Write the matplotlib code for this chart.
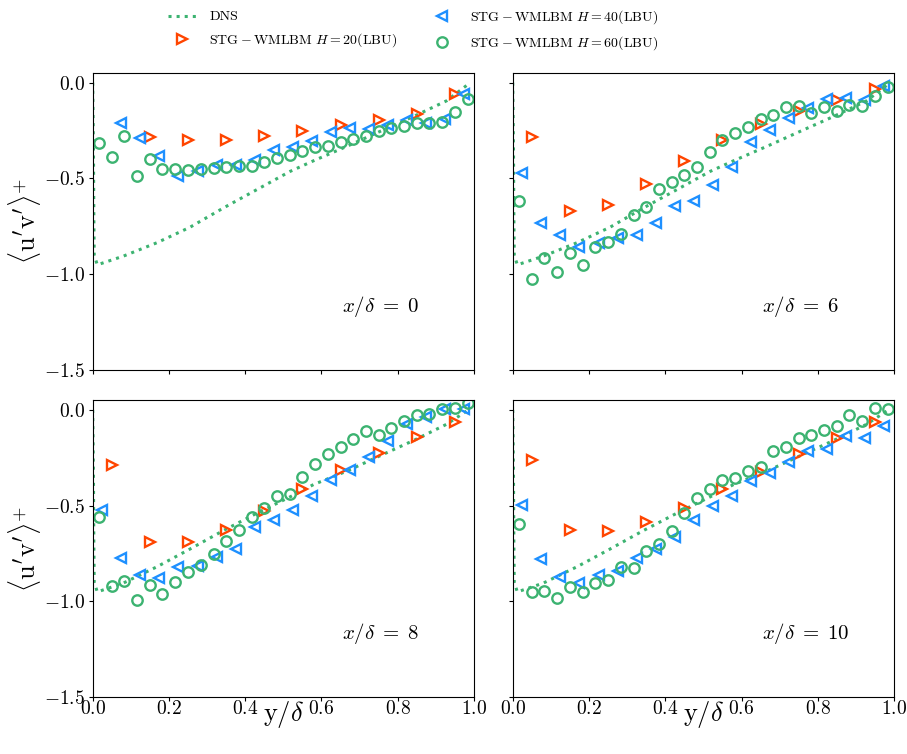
import numpy as np
import matplotlib
matplotlib.use('Agg')
import matplotlib.pyplot as plt

plt.rcParams['font.family'] = 'serif'
plt.rcParams['font.serif'] = ['cmr10']
plt.rcParams['mathtext.fontset'] = 'cm'
plt.rcParams['axes.formatter.use_mathtext'] = True

##################################################################
# Data

# DNS profiles
y_dns = [0.0, 0.002, 0.003, 0.004, 0.012, 0.08, 0.168, 0.255, 0.343, 0.43,
         0.517, 0.579, 0.666, 0.753, 0.841, 0.928, 0.985]
uv_dns_top = [0.0, -0.35, -0.7, -0.9, -0.951, -0.906, -0.836, -0.755, -0.654, -0.559,
              -0.464, -0.408, -0.333, -0.255, -0.177, -0.095, -0.008]
uv_dns_bot = [0.0, -0.35, -0.7, -0.9, -0.951, -0.905, -0.82, -0.727, -0.63, -0.54,
              -0.455, -0.39, -0.32, -0.24, -0.16, -0.075, -0.0]

# STG-WMLBM sample positions
y_h20 = [0.05, 0.15, 0.25, 0.35, 0.45, 0.55, 0.65, 0.75, 0.85, 0.95]
y_h40 = [0.025, 0.075, 0.125, 0.175, 0.225, 0.275, 0.325, 0.375, 0.425, 0.475,
         0.525, 0.575, 0.625, 0.675, 0.725, 0.775, 0.825, 0.875, 0.925, 0.975]
y_h60 = [0.017, 0.05, 0.083, 0.117, 0.15, 0.183, 0.217, 0.25, 0.283, 0.317,
         0.35, 0.383, 0.417, 0.45, 0.483, 0.517, 0.55, 0.583, 0.617, 0.65,
         0.683, 0.717, 0.75, 0.783, 0.817, 0.85, 0.883, 0.917, 0.95, 0.983]

stations = [0, 6, 8, 10]

uv_h20 = {
    0: [np.nan, -0.282, -0.301, -0.301, -0.280, -0.254, -0.219, -0.197, -0.165, -0.059],
    6: [-0.285, -0.670, -0.638, -0.530, -0.410, -0.299, -0.217, -0.146, -0.090, -0.035],
    8: [-0.287, -0.692, -0.690, -0.626, -0.530, -0.412, -0.315, -0.226, -0.141, -0.061],
    10: [-0.261, -0.626, -0.635, -0.586, -0.513, -0.414, -0.322, -0.231, -0.148, -0.064],
}
uv_h40 = {
    0: [np.nan, -0.212, -0.290, -0.381, -0.487, -0.461, -0.430, -0.430, -0.403, -0.351,
        -0.337, -0.303, -0.257, -0.235, -0.242, -0.221, -0.195, -0.212, -0.190, -0.059],
    6: [-0.470, -0.734, -0.797, -0.856, -0.838, -0.810, -0.797, -0.734, -0.643, -0.616,
        -0.534, -0.438, -0.311, -0.247, -0.183, -0.130, -0.087, -0.078, -0.090, -0.017],
    8: [-0.522, -0.774, -0.861, -0.878, -0.819, -0.814, -0.770, -0.725, -0.610, -0.574,
        -0.522, -0.450, -0.367, -0.315, -0.245, -0.162, -0.071, -0.037, 0.005, 0.005],
    10: [-0.496, -0.777, -0.873, -0.904, -0.861, -0.843, -0.774, -0.725, -0.666, -0.574,
         -0.504, -0.452, -0.370, -0.332, -0.273, -0.217, -0.205, -0.136, -0.144, -0.083],
}
uv_h60 = {
    0: [-0.317, -0.388, -0.280, -0.487, -0.400, -0.449, -0.452, -0.454, -0.452, -0.443,
        -0.440, -0.437, -0.437, -0.416, -0.391, -0.377, -0.358, -0.337, -0.330, -0.310,
        -0.292, -0.280, -0.252, -0.238, -0.228, -0.212, -0.212, -0.203, -0.155, -0.087],
    6: [-0.617, -1.024, -0.918, -0.986, -0.887, -0.951, -0.856, -0.833, -0.788, -0.690,
        -0.649, -0.555, -0.520, -0.483, -0.442, -0.360, -0.299, -0.264, -0.230, -0.191,
        -0.167, -0.129, -0.123, -0.160, -0.125, -0.146, -0.117, -0.122, -0.068, -0.021],
    8: [-0.562, -0.918, -0.896, -0.993, -0.913, -0.963, -0.899, -0.847, -0.812, -0.755,
        -0.687, -0.626, -0.557, -0.513, -0.449, -0.438, -0.350, -0.283, -0.228, -0.195,
        -0.153, -0.108, -0.129, -0.094, -0.056, -0.024, -0.019, 0.003, 0.012, 0.037],
    10: [-0.597, -0.953, -0.944, -0.983, -0.927, -0.953, -0.903, -0.887, -0.823, -0.826,
         -0.739, -0.701, -0.635, -0.539, -0.461, -0.412, -0.367, -0.357, -0.318, -0.299,
         -0.212, -0.195, -0.144, -0.130, -0.104, -0.083, -0.026, -0.056, 0.009, 0.003],
}

##################################################################
# Styles
cGreen = '#3CB371'
cOrange = '#FF4500'
cBlue = '#1E90FF'
ms = 7.5
mew = 1.7

fig = plt.figure(figsize=(9.07, 7.54), dpi=100)

rects = [
    [0.1022, 0.5093, 0.4204, 0.3943],
    [0.5653, 0.5093, 0.4204, 0.3943],
    [0.1022, 0.0756, 0.4204, 0.3939],
    [0.5653, 0.0756, 0.4204, 0.3939],
]

for index, st in enumerate(stations):
    ax = fig.add_axes(rects[index])
    dns = uv_dns_top if index < 2 else uv_dns_bot
    ax.plot(y_dns, dns, ':', color=cGreen, lw=2.2, label='DNS')
    ax.plot(y_h20, uv_h20[st], '>', color=cOrange, mfc='none', ms=ms, mew=mew,
            label=r'$\mathrm{STG}-\mathrm{WMLBM}\ H=20(\mathrm{LBU})$')
    ax.plot(y_h40, uv_h40[st], '<', color=cBlue, mfc='none', ms=ms, mew=mew,
            label=r'$\mathrm{STG}-\mathrm{WMLBM}\ H=40(\mathrm{LBU})$')
    ax.plot(y_h60, uv_h60[st], 'o', color=cGreen, mfc='none', ms=ms, mew=mew,
            label=r'$\mathrm{STG}-\mathrm{WMLBM}\ H=60(\mathrm{LBU})$')

    ax.set_xlim(0, 1)
    ax.set_ylim(-1.5, 0.052)
    ax.set_xticks([0, 0.2, 0.4, 0.6, 0.8, 1.0])
    ax.set_yticks([-1.5, -1.0, -0.5, 0.0])
    ax.tick_params(labelsize=14, length=3)
    ax.tick_params(axis='y', pad=2.5)
    ax.tick_params(axis='x', pad=-0.5)
    ax.text(0.654, -1.17, r'$x/\delta\;=\;%d$' % st, fontsize=15, va='center')

    if index % 2 == 1:
        ax.set_yticklabels([])
    else:
        ax.set_ylabel(r"$\langle \mathrm{u'v'} \rangle^{+}$", fontsize=19, labelpad=1)
    if index < 2:
        ax.set_xticklabels([])
    else:
        ax.set_xlabel(r'$\mathrm{y}/\delta$', fontsize=19, labelpad=-14)

    if index == 0:
        handles, labels = ax.get_legend_handles_labels()

fig.legend(handles, labels, loc='upper center', bbox_to_anchor=(0.455, 1.006),
           ncol=2, frameon=False, fontsize=10, columnspacing=2.2,
           labelspacing=0.6, handlelength=2.0, handletextpad=1.0)

fig.savefig('out.png', dpi=100)
